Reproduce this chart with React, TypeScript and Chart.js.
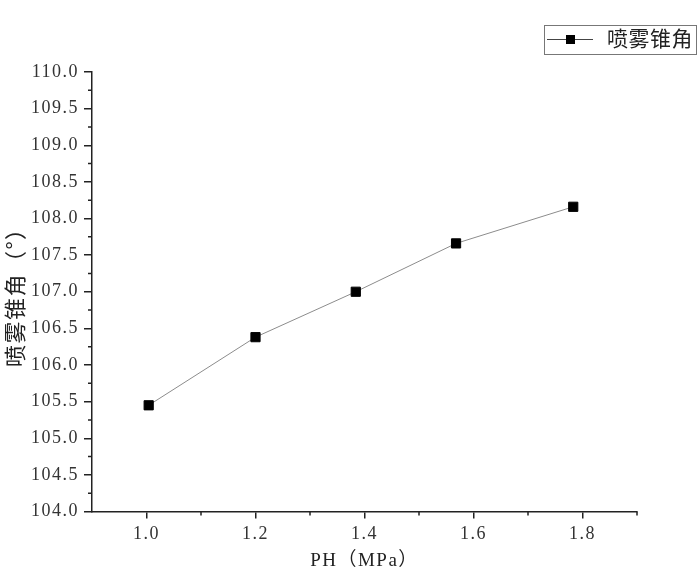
import React, { useEffect, useRef } from "react";
import { Chart, registerables } from "chart.js";

Chart.register(...registerables);

const seriesLabel = "喷雾锥角";
const xTitle = "PH（MPa）";
const yTitle = "喷雾锥角（°）";
const pressure = [1.004, 1.2, 1.384, 1.568, 1.783];
const coneAngle = [105.45, 106.38, 107.0, 107.66, 108.16];
const xMajorTicks = [1.0, 1.2, 1.4, 1.6, 1.8];
const xMinorTicks = [1.1, 1.3, 1.5, 1.7, 1.9];
const yMajorTicks = [104, 104.5, 105, 105.5, 106, 106.5, 107, 107.5, 108, 108.5, 109, 109.5, 110];
const yMinorTicks = [104.25, 104.75, 105.25, 105.75, 106.25, 106.75, 107.25, 107.75, 108.25, 108.75, 109.25, 109.75];

const SERIF = '"Liberation Serif", "Noto Sans CJK SC", serif';
const CJK = '"Liberation Serif", "Noto Sans CJK SC", sans-serif';
const CJK_FIRST = '"Noto Sans CJK SC", sans-serif';
const AXIS_COLOR = "#222";

const spacingPlugin = {
  id: "letterSpacing",
  beforeDraw(chart: any) {
    (chart.ctx as any).letterSpacing = "1.5px";
  },
  beforeDatasetsDraw(chart: any) {
    (chart.ctx as any).letterSpacing = "0px";
  },
};

const minorTickPlugin = {
  id: "minorTicks",
  afterDraw(chart: any) {
    const ctx = chart.ctx;
    const xs = chart.scales.x;
    const ys = chart.scales.y;
    const area = chart.chartArea;
    ctx.save();
    ctx.strokeStyle = AXIS_COLOR;
    ctx.lineWidth = 1.5;
    ctx.beginPath();
    xMinorTicks.forEach((v) => {
      const px = xs.getPixelForValue(v);
      ctx.moveTo(px, area.bottom);
      ctx.lineTo(px, area.bottom + 4);
    });
    yMinorTicks.forEach((v) => {
      const py = ys.getPixelForValue(v);
      ctx.moveTo(area.left, py);
      ctx.lineTo(area.left - 4, py);
    });
    ctx.stroke();
    ctx.restore();
  },
};

const legendPlugin = {
  id: "customLegend",
  afterDraw(chart: any) {
    const ctx = chart.ctx;
    const ds = chart.data.datasets[0];
    const bx = 544, by = 25, bw = 152, bh = 29;
    const cy = by + bh / 2;
    ctx.save();
    (ctx as any).letterSpacing = "0.5px";
    ctx.strokeStyle = "#777";
    ctx.lineWidth = 1;
    ctx.strokeRect(bx + 0.5, by + 0.5, bw, bh);
    ctx.strokeStyle = "#444";
    ctx.beginPath();
    ctx.moveTo(bx + 3, cy);
    ctx.lineTo(bx + 49, cy);
    ctx.stroke();
    ctx.fillStyle = "#000";
    ctx.fillRect(bx + 22, cy - 4.5, 9, 9);
    ctx.fillStyle = "#222";
    ctx.font = `21px ${CJK}`;
    ctx.textBaseline = "middle";
    ctx.textAlign = "left";
    ctx.fillText(ds.label, bx + 63, cy + 1);
    ctx.restore();
  },
};

export default function App() {
  const canvasRef = useRef<HTMLCanvasElement | null>(null);

  useEffect(() => {
    document.body.style.margin = "0";
    if (!canvasRef.current) return;
    const chart = new Chart(canvasRef.current, {
      type: "line",
      data: {
        datasets: [
          {
            label: seriesLabel,
            data: pressure.map((x, i) => ({ x, y: coneAngle[i] })),
            borderColor: "#8c8c8c",
            borderWidth: 1,
            pointStyle: "rect",
            pointRadius: 6.5,
            pointHoverRadius: 6.5,
            pointBackgroundColor: "#000",
            pointBorderColor: "#000",
            pointBorderWidth: 1,
            tension: 0,
            fill: false,
          },
        ],
      },
      options: {
        animation: false,
        responsive: true,
        maintainAspectRatio: false,
        layout: { padding: { top: 72, right: 63, left: 0, bottom: 0 } },
        plugins: {
          legend: { display: false },
          tooltip: { enabled: false },
        },
        scales: {
          x: {
            type: "linear",
            min: 0.9,
            max: 1.9,
            afterBuildTicks: (scale: any) => {
              scale.ticks = xMajorTicks.map((v) => ({ value: v }));
            },
            afterFit: (scale: any) => {
              scale.height = 65.5;
            },
            ticks: {
              autoSkip: false,
              maxRotation: 0,
              padding: 5,
              color: "#333",
              font: { family: SERIF, size: 18 },
              callback: (v: any) => Number(v).toFixed(1),
            },
            grid: {
              drawOnChartArea: false,
              drawTicks: true,
              tickLength: 7,
              color: AXIS_COLOR,
              lineWidth: 1.5,
            },
            border: { display: true, color: AXIS_COLOR, width: 1.5 },
            title: {
              display: true,
              text: xTitle,
              color: "#222",
              font: { family: CJK, size: 19 },
              padding: { top: 0, bottom: 5 },
            },
          },
          y: {
            type: "linear",
            min: 104,
            max: 110,
            afterBuildTicks: (scale: any) => {
              scale.ticks = yMajorTicks.map((v) => ({ value: v }));
            },
            afterFit: (scale: any) => {
              scale.width = 92;
            },
            ticks: {
              autoSkip: false,
              padding: 5,
              color: "#333",
              font: { family: SERIF, size: 18 },
              callback: (v: any) => Number(v).toFixed(1),
            },
            grid: {
              drawOnChartArea: false,
              drawTicks: true,
              tickLength: 8,
              color: AXIS_COLOR,
              lineWidth: 1.5,
            },
            border: { display: true, color: AXIS_COLOR, width: 1.5 },
            title: {
              display: true,
              text: yTitle,
              color: "#222",
              font: { family: CJK_FIRST, size: 22 },
              padding: { top: 1, bottom: 0 },
            },
          },
        },
      },
      plugins: [spacingPlugin, minorTickPlugin, legendPlugin],
    });
    return () => chart.destroy();
  }, []);

  return (
    <div style={{ position: "absolute", left: 0, top: 0, width: 700, height: 577 }}>
      <canvas ref={canvasRef} />
    </div>
  );
}
